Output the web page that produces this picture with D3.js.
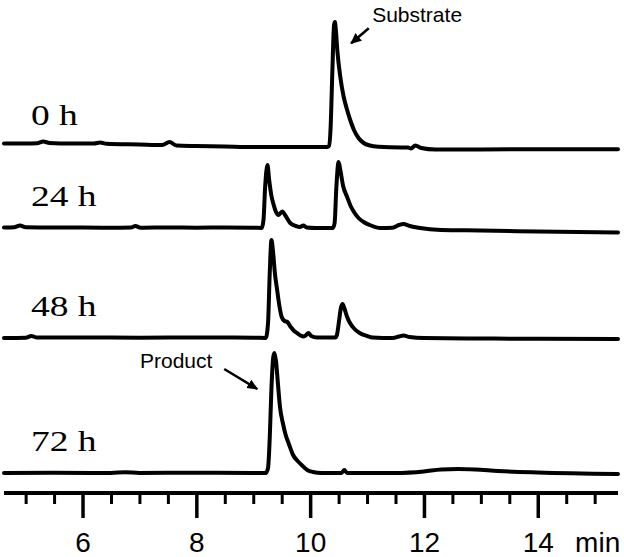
<!DOCTYPE html>
<html>
<head>
<meta charset="utf-8">
<script src="https://cdn.jsdelivr.net/npm/d3@7"></script>
<style>
  body { margin: 0; background: #fff; }
  svg { display: block; }
</style>
</head>
<body>
<div id="chart"></div>
<script>
// runs, stacked from top to bottom
const runs = ["0 h", "24 h", "48 h", "72 h"];

// [time (min), signal] for each run, signal relative to the run's baseline
const trace0h = [
  [4.62, 3.5], [5.0, 3.5], [5.2, 3.8], [5.31, 5.5], [5.42, 4], [5.8, 3.5], [6.2, 3.5], [6.31, 4.5],
  [6.42, 3.2], [7.0, 2.5], [7.4, 2], [7.53, 5], [7.65, 1.5], [8.0, 1], [8.5, 0.5], [9.0, 0],
  [10.3, 0], [10.33, 1], [10.36, 20], [10.39, 75], [10.42, 122], [10.435, 125], [10.45, 118],
  [10.48, 95], [10.53, 70], [10.59, 50], [10.65, 37], [10.71, 26], [10.77, 17], [10.85, 9],
  [10.94, 4], [11.05, 1.5], [11.2, 0.3], [11.6, -0.5], [11.72, -0.5], [11.77, -1.5], [11.85, 1.5],
  [11.95, -1], [12.2, -2.5], [13, -2.5], [14, -2.2], [15.41, -2.3]
];
const trace24h = [
  [4.62, 0.5], [4.8, 0.8], [4.9, 2.5], [5.0, 0.8], [5.5, 0.5], [6.0, 0.5], [6.5, 0.3], [6.85, 0.5],
  [6.93, 2], [7.02, 0.3], [7.5, 0.5], [8.0, 0.3], [8.5, 0.5], [9.0, 0.3], [9.15, 0], [9.18, 8],
  [9.21, 42], [9.25, 63], [9.28, 48], [9.32, 32], [9.35, 25], [9.4, 16], [9.44, 13], [9.51, 16.5],
  [9.57, 12], [9.65, 5], [9.75, 2], [9.82, 1], [9.88, 2.5], [9.94, 0.5], [10.1, 0], [10.4, 0],
  [10.43, 5], [10.46, 40], [10.5, 66], [10.53, 58], [10.58, 42], [10.65, 31], [10.72, 21],
  [10.77, 16], [10.85, 10], [10.94, 6], [11.05, 3], [11.23, 0], [11.45, 0.3], [11.56, 3],
  [11.64, 4], [11.75, 2], [11.9, 0.3], [12.3, -2], [13, -2.5], [14, -3.5], [15.41, -4.5]
];
const trace48h = [
  [4.62, 0], [5.0, 0.3], [5.1, 2], [5.2, 0.5], [6, 0.5], [7, 0.3], [8, 0.5], [9, 0.3], [9.22, 0],
  [9.26, 15], [9.29, 65], [9.32, 98], [9.35, 85], [9.38, 65], [9.42, 48], [9.46, 32], [9.5, 21],
  [9.55, 17], [9.6, 16], [9.66, 11], [9.72, 7], [9.77, 5], [9.83, 2.5], [9.89, 1.5], [9.93, 3],
  [9.97, 5], [10.02, 2], [10.12, 0.5], [10.44, 0.5], [10.47, 3], [10.51, 18], [10.54, 30],
  [10.57, 34], [10.6, 30], [10.65, 21], [10.7, 15], [10.78, 9], [10.87, 5], [11.0, 2], [11.1, 0.5],
  [11.45, 0], [11.56, 1.5], [11.64, 2.5], [11.75, 1], [12.0, 0], [13, -0.5], [14, -0.8], [15.41, -1]
];
const trace72h = [
  [4.62, 0], [5.5, 0.3], [6.5, 0], [6.75, 0.8], [7, 0], [8, 0.3], [9, 0], [9.22, 0], [9.26, 5],
  [9.29, 35], [9.32, 85], [9.35, 115], [9.37, 120], [9.4, 112], [9.43, 92], [9.47, 66], [9.52, 50],
  [9.57, 38], [9.62, 30], [9.7, 18], [9.78, 12], [9.85, 8], [9.95, 3], [10.05, 1], [10.2, 0],
  [10.55, 0], [10.6, 3], [10.65, 0], [11.5, 0], [12.0, 1.5], [12.3, 3.5], [12.6, 4], [12.9, 3.5],
  [13.3, 2], [14, 0.5], [15.41, -1]
];
const traces = [trace0h, trace24h, trace48h, trace72h];

const majorTicks = [6, 8, 10, 12, 14];
const minorTicks = [5, 5.5, 6.5, 7, 7.5, 8.5, 9, 9.5, 10.5, 11, 11.5, 12.5, 13, 13.5, 14.5, 15];
const timeDomain = [4.62, 15.41];
const unitLabel = "min";

const width = 624, height = 557;

const svg = d3.select("#chart")
  .append("svg")
  .attr("width", width)
  .attr("height", height);

// scales
const x = d3.scaleLinear().domain(timeDomain).range([4, 618]);
const base = d3.scaleOrdinal().domain(runs).range([147, 228, 338, 473]);
const sig = d3.scaleLinear().domain([0, 130]).range([0, -130]);

// traces
const line = run => d3.line()
  .curve(d3.curveMonotoneX)
  .x(d => x(d[0]))
  .y(d => base(run) + sig(d[1]));

svg.selectAll(".trace")
  .data(runs)
  .enter()
  .append("path")
  .attr("class", "trace")
  .attr("d", (r, i) => line(r)(traces[i]))
  .attr("fill", "none")
  .attr("stroke", "#000")
  .attr("stroke-width", 4)
  .attr("stroke-linejoin", "round")
  .attr("stroke-linecap", "round");

// run labels
svg.selectAll(".runlabel")
  .data(runs)
  .enter()
  .append("text")
  .attr("class", "runlabel")
  .attr("transform", r => "translate(31," + (base(r) - 22) + ") scale(1.25,1)")
  .style("font-family", "'Liberation Serif', 'Times New Roman', serif")
  .style("font-size", "30px")
  .text(r => r);

// axis
const axisY = 493;
const minorAxis = d3.axisBottom(x).tickValues(minorTicks).tickSize(11).tickFormat("");
const majorAxis = d3.axisBottom(x).tickValues(majorTicks).tickSize(25).tickPadding(14)
  .tickFormat(d3.format("d"));

const gMinor = svg.append("g").attr("transform", "translate(0," + axisY + ")").call(minorAxis);
gMinor.select(".domain").remove();
gMinor.selectAll(".tick line").attr("stroke", "#000").attr("stroke-width", 3);

const gMajor = svg.append("g").attr("transform", "translate(0," + axisY + ")").call(majorAxis);
gMajor.select(".domain").attr("stroke", "#000").attr("stroke-width", 4)
  .attr("d", "M" + x.range()[0] + ",0H" + x.range()[1]);
gMajor.selectAll(".tick line").attr("stroke", "#000").attr("stroke-width", 3.5);
gMajor.selectAll(".tick text")
  .attr("fill", "#000")
  .style("font-family", "'Liberation Sans', Arial, sans-serif")
  .style("font-size", "28px");

svg.append("text")
  .attr("x", x(15) + 3)
  .attr("y", axisY + 39)
  .attr("dy", "0.71em")
  .attr("text-anchor", "middle")
  .style("font-family", "'Liberation Sans', Arial, sans-serif")
  .style("font-size", "28px")
  .text(unitLabel);

// annotations
svg.append("defs").append("marker")
  .attr("id", "head")
  .attr("markerUnits", "userSpaceOnUse")
  .attr("viewBox", "0 -5 10 10")
  .attr("refX", 9)
  .attr("refY", 0)
  .attr("markerWidth", 11)
  .attr("markerHeight", 11)
  .attr("orient", "auto")
  .append("path")
  .attr("d", "M0,-4.5L10,0L0,4.5Z")
  .attr("fill", "#000");

const annot = (run, txt, tx, ty, x1, y1, x2, y2) => {
  svg.append("text")
    .attr("x", x(tx))
    .attr("y", base(run) + sig(ty))
    .style("font-family", "'Liberation Sans', Arial, sans-serif")
    .style("font-size", "21px")
    .text(txt);
  svg.append("line")
    .attr("x1", x(x1)).attr("y1", base(run) + sig(y1))
    .attr("x2", x(x2)).attr("y2", base(run) + sig(y2))
    .attr("stroke", "#000")
    .attr("stroke-width", 2.5)
    .attr("marker-end", "url(#head)");
};

annot("0 h", "Substrate", 11.09, 125.3, 11.03, 118.7, 10.72, 103.7);
annot("72 h", "Product", 7.01, 105, 8.49, 104, 9.07, 84);
</script>
</body>
</html>
